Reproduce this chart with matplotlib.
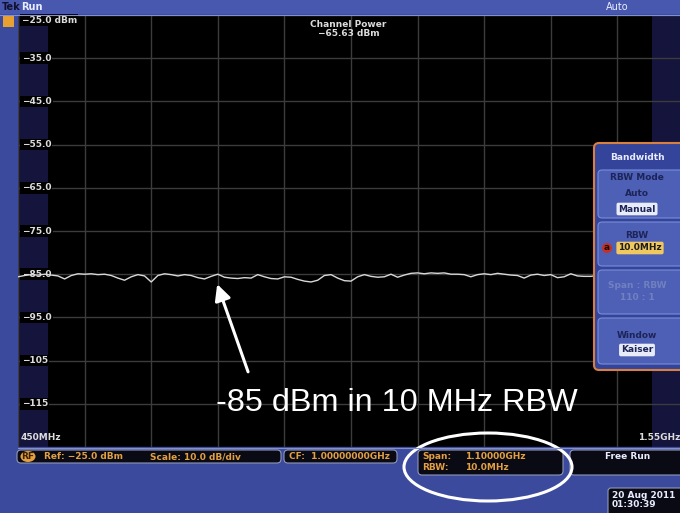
import numpy as np
import matplotlib.pyplot as plt
from matplotlib.patches import FancyBboxPatch, Ellipse, Rectangle, Circle

# ---- data ----
freq_start, freq_stop = 450.0, 1550.0     # MHz
ref_level = -25.0                          # dBm
db_per_div = 10.0
y_labels = ["\u221225.0 dBm", "\u221235.0", "\u221245.0", "\u221255.0", "\u221265.0",
            "\u221275.0", "\u221285.0", "\u221295.0", "\u2212105", "\u2212115"]

# trace level (dBm), one point every 11 MHz from 450 MHz (rest hidden by the menu)
trace_dbm = [-85.6, -85.3, -85.1, -85.2, -85.0, -85.2, -85.4, -86.1, -85.3, -84.9,
             -85.0, -84.9, -85.1, -85.0, -85.3, -85.9, -86.4, -85.6, -85.1, -85.4,
             -86.8, -85.3, -84.9, -85.1, -85.4, -85.1, -85.3, -85.8, -86.1, -85.5,
             -85.0, -85.7, -85.9, -86.0, -85.8, -85.9, -85.1, -85.6, -86.0, -86.1,
             -85.6, -85.7, -86.2, -86.6, -86.8, -86.4, -85.3, -85.1, -85.9, -86.5,
             -86.6, -85.6, -85.1, -85.5, -85.7, -85.6, -85.0, -85.7, -85.2, -84.8,
             -84.7, -84.9, -84.7, -84.8, -84.7, -85.0, -85.0, -85.1, -85.6, -85.1,
             -84.9, -85.1, -84.8, -85.0, -85.2, -85.3, -85.9, -85.2, -85.0, -85.3,
             -85.1, -85.8, -85.6, -84.9, -85.4, -85.5, -85.5, -85.3, -85.1]
trace_freq = np.linspace(freq_start, freq_start + 11.0 * (len(trace_dbm) - 1), len(trace_dbm))

channel_power = "\u221265.63 dBm"
annotation = "-85 dBm in 10 MHz RBW"

# ---- colours ----
BG = "#3c4a9e"
NAVY = "#15143c"
GRID = "#3c3c3c"
ORANGE = "#e3a040"
UI_FONT = "DejaVu Sans"

W, H = 680, 513
fig = plt.figure(figsize=(W / 100, H / 100), dpi=100, facecolor=BG)

# main graticule (pixel box 18..684 x 15..447)
ax = fig.add_axes([18 / W, 1 - 447 / H, (684 - 18) / W, (447 - 15) / H])
ax.set_facecolor("black")
ax.set_xlim(freq_start, freq_stop)
ax.set_ylim(ref_level - 10 * db_per_div, ref_level)
ax.set_xticks(np.linspace(freq_start, freq_stop, 11))
ax.set_yticks(np.arange(ref_level - 10 * db_per_div, ref_level + 1, db_per_div))
ax.tick_params(length=0, labelbottom=False, labelleft=False)
ax.grid(True, color=GRID, lw=1.0)
for s in ax.spines.values():
    s.set_visible(False)

# shaded area outside the channel power band
span = freq_stop - freq_start
ax.axvspan(freq_start, freq_start + span * 30 / 666, color=NAVY, zorder=0.5, lw=0)
ax.axvspan(freq_start + span * 634 / 666, freq_stop, color=NAVY, zorder=0.5, lw=0)

ax.plot(trace_freq, trace_dbm, color="#d8d8d8", lw=1.0, zorder=5)

# level labels
for i, lab in enumerate(y_labels):
    lvl = ref_level - i * db_per_div
    ax.text(freq_start + 6, lvl - (1.2 if i == 0 else 0), lab, color="#dcdcdc",
            fontsize=6.5, fontweight="bold", family=UI_FONT, va="center", ha="left",
            bbox=dict(fc="black", ec="none", pad=1.0), zorder=4)

ax.text(freq_start + 5, ref_level - 97.8, "450MHz", color="#dcdcdc", fontsize=6.5,
        fontweight="bold", family=UI_FONT, va="center", ha="left", zorder=4)
ax.text(freq_start + span * 662 / 666, ref_level - 97.8, "1.55GHz", color="#dcdcdc",
        fontsize=6.5, fontweight="bold", family=UI_FONT, va="center", ha="right", zorder=4)

ax.text(freq_start + span / 2 - 4, ref_level - 1.2, "Channel Power\n" + channel_power,
        color="#dcdcdc", fontsize=6.5, fontweight="bold", family=UI_FONT,
        va="top", ha="center", linespacing=1.0, zorder=4)

# callout
ax.annotate("", xy=(779, -87.3), xytext=(830, -107.6),
            arrowprops=dict(arrowstyle="-|>", color="white", lw=2.2, mutation_scale=24,
                            shrinkA=0, shrinkB=0), zorder=6)
ax.text(1076, -116.6, annotation, color="white", fontsize=23.3,
        family="Liberation Sans", ha="center", va="baseline", zorder=6)

# ---- screen furniture in pixel coordinates ----
ui = fig.add_axes([0, 0, 1, 1], zorder=5)
ui.set_xlim(0, W)
ui.set_ylim(H, 0)
ui.axis("off")
ui.patch.set_alpha(0)

ui.add_patch(Rectangle((0, 0), W, 14, color="#4858ae", lw=0))
ui.plot([0, W], [14.5, 14.5], color="#8090d0", lw=0.8)
ui.text(2, 7.5, "Tek", color="#101030", fontsize=7, fontweight="bold", family=UI_FONT, va="center")
ui.text(21, 7.5, "Run", color="#e8ecff", fontsize=7, fontweight="bold", family=UI_FONT, va="center")
ui.text(617, 7.5, "Auto", color="#e8ecff", fontsize=7, family=UI_FONT, va="center", ha="center")
ui.add_patch(Rectangle((3, 16), 11, 11, fc="#e8a030", ec="none"))

# bandwidth side menu
ui.add_patch(FancyBboxPatch((594, 143), 92, 227, boxstyle="round,pad=0,rounding_size=5",
                            fc="#34449a", ec="#d88040", lw=1.5))
ui.text(637, 158, "Bandwidth", color="#e8ecff", fontsize=6.5, family=UI_FONT,
        fontweight="bold", ha="center", va="center")
buttons = [(170, 48), (222, 44), (270, 44), (318, 46)]
for y0, h in buttons:
    ui.add_patch(FancyBboxPatch((598, y0), 86, h, boxstyle="round,pad=0,rounding_size=4",
                                fc="#4e60b6", ec="#7a8cd8", lw=0.8))
txt = dict(fontsize=6.5, family=UI_FONT, fontweight="bold", ha="center", va="center")
ui.text(637, 178, "RBW Mode", color="#1c2458", **txt)
ui.text(637, 194, "Auto", color="#1c2458", **txt)
ui.text(637, 209, "Manual", color="#1c2458",
        bbox=dict(boxstyle="round,pad=0.2", fc="#e8ecf8", ec="none"), **txt)
ui.text(637, 236, "RBW", color="#1c2458", **txt)
ui.add_patch(Circle((607, 248), 5, fc="#c83020", ec="none"))
ui.text(607, 248, "a", color="#101010", **txt)
ui.text(640, 248, "10.0MHz", color="#1c1c1c",
        bbox=dict(boxstyle="round,pad=0.2", fc="#f0c860", ec="none"), **txt)
ui.text(637, 285, "Span : RBW", color="#7080c0", **txt)
ui.text(637, 298, "110 : 1", color="#7080c0", **txt)
ui.text(637, 336, "Window", color="#1c2458", **txt)
ui.text(637, 350, "Kaiser", color="#1c2458",
        bbox=dict(boxstyle="round,pad=0.2", fc="#e8ecf8", ec="none"), **txt)

# bottom readouts
ui.plot([18, W], [448, 448], color="#8090d0", lw=0.8)
boxes = [(17, 450, 264, 13), (284, 450, 113, 13), (418, 450, 145, 25), (570, 450, 120, 25)]
for x0, y0, w, h in boxes:
    ui.add_patch(FancyBboxPatch((x0, y0), w, h, boxstyle="round,pad=0,rounding_size=4",
                                fc="#0a0a14", ec="#9098b8", lw=0.8))
rd = dict(fontsize=6.5, family=UI_FONT, fontweight="bold", va="center", color=ORANGE)
ui.add_patch(Ellipse((28, 456.5), 15, 11, fc=ORANGE, ec="none"))
ui.text(28, 456.5, "RF", ha="center", **{**rd, "color": "#3a2000"})
ui.text(44, 456.5, "Ref: \u221225.0 dBm", ha="left", **rd)
ui.text(150, 456.5, "Scale: 10.0 dB/div", ha="left", **rd)
ui.text(289, 456.5, "CF:  1.00000000GHz", ha="left", **rd)
ui.text(422, 456.5, "Span:", ha="left", **rd)
ui.text(465, 456.5, "1.10000GHz", ha="left", **rd)
ui.text(422, 468, "RBW:", ha="left", **rd)
ui.text(465, 468, "10.0MHz", ha="left", **rd)
ui.text(628, 456.5, "Free Run", ha="center", **{**rd, "color": "#e8ecff"})

ui.add_patch(FancyBboxPatch((608, 488), 80, 30, boxstyle="round,pad=0,rounding_size=3",
                            fc="#0a0a14", ec="#9098b8", lw=0.8))
ui.text(612, 500, "20 Aug 2011\n01:30:39", ha="left", va="center", color="#e8ecff",
        fontsize=6.5, fontweight="bold", family=UI_FONT, linespacing=0.95)

# hand-drawn highlight ring
ui.add_patch(Ellipse((488, 467), 168, 68, fc="none", ec="white", lw=2.2))

fig.savefig("out.png", dpi=100, facecolor=BG)
